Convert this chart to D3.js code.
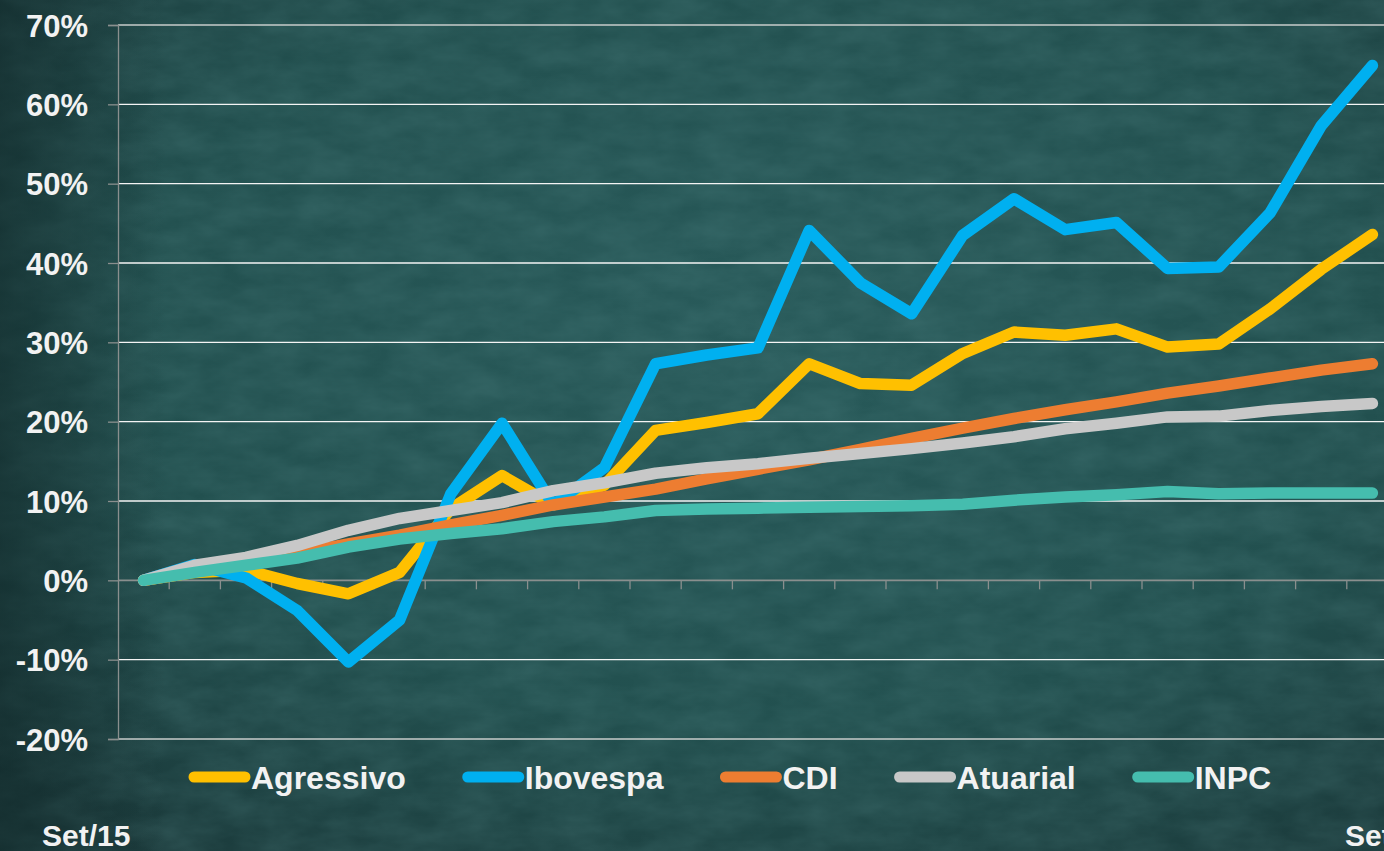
<!DOCTYPE html>
<html>
<head>
<meta charset="utf-8">
<script src="https://cdn.jsdelivr.net/npm/d3@7"></script>
<style>
html,body{margin:0;padding:0;overflow:hidden;background:#22494a;}
svg{display:block;}
text{font-family:"Liberation Sans",Arial,sans-serif;font-weight:bold;fill:#f2f2f2;}
</style>
</head>
<body>
<svg id="chart" width="1384" height="851"></svg>
<script>
const months = ["Set/15","Out/15","Nov/15","Dez/15","Jan/16","Fev/16","Mar/16","Abr/16","Mai/16","Jun/16","Jul/16","Ago/16",
  "Set/16","Out/16","Nov/16","Dez/16","Jan/17","Fev/17","Mar/17","Abr/17","Mai/17","Jun/17","Jul/17","Ago/17","Set/17"];
const agressivo = [0,1.0,1.3,-0.4,-1.7,1.0,9.0,13.2,9.5,12.0,18.9,19.9,21.0,27.3,24.8,24.6,28.6,31.3,30.9,31.7,29.4,29.8,34.2,39.2,43.6];
const ibovespa  = [0,2.0,0.3,-3.8,-10.3,-5.0,10.9,19.8,9.5,14.2,27.3,28.4,29.3,44.1,37.5,33.6,43.5,48.1,44.2,45.1,39.3,39.5,46.3,57.3,64.9];
const cdi       = [0,1.1,2.2,3.4,4.6,5.7,7.0,8.2,9.5,10.5,11.5,12.8,14.0,15.2,16.5,17.9,19.2,20.4,21.5,22.5,23.6,24.5,25.5,26.5,27.3];
const atuarial  = [0,1.9,2.9,4.4,6.3,7.8,8.8,9.8,11.3,12.3,13.5,14.2,14.7,15.4,16.0,16.6,17.3,18.1,19.1,19.8,20.6,20.7,21.4,21.9,22.3];
const inpc      = [0,1.0,1.9,2.8,4.2,5.2,5.9,6.5,7.4,8.0,8.8,9.0,9.1,9.2,9.3,9.4,9.6,10.1,10.5,10.8,11.2,10.9,11.0,11.0,11.0];
const seriesNames = ["Agressivo","Ibovespa","CDI","Atuarial","INPC"];
const seriesColors = ["#FFC000","#00B0F0","#ED7D31","#C8C8C8","#45BDAE"];
const yTicks = [-20,-10,0,10,20,30,40,50,60,70];
const firstLabel = "Set/15", lastLabel = "Set/17";

const seriesData = [agressivo, ibovespa, cdi, atuarial, inpc];

const svg = d3.select("#chart");
const W = 1384, H = 851;

// background
const defs = svg.append("defs");
const rg = defs.append("radialGradient").attr("id","bg").attr("cx","55%").attr("cy","40%").attr("r","75%");
rg.append("stop").attr("offset","0%").attr("stop-color","#285a5a");
rg.append("stop").attr("offset","60%").attr("stop-color","#22504f");
rg.append("stop").attr("offset","100%").attr("stop-color","#1b3a3b");
const f = defs.append("filter").attr("id","noise").attr("x",0).attr("y",0).attr("width","100%").attr("height","100%");
f.append("feTurbulence").attr("type","fractalNoise").attr("baseFrequency","0.02 0.045").attr("numOctaves",4).attr("seed",7);
f.append("feColorMatrix").attr("type","matrix").attr("values","0 0 0 0 0.12  0 0 0 0 0.3  0 0 0 0 0.3  0 0 0 0.3 -0.06");
const lg = defs.append("linearGradient").attr("id","leftshade").attr("x1","0").attr("x2","1");
lg.append("stop").attr("offset","0").attr("stop-color","#0f2526").attr("stop-opacity",0.55);
lg.append("stop").attr("offset","0.12").attr("stop-color","#0f2526").attr("stop-opacity",0);
svg.append("rect").attr("width",W).attr("height",H).attr("fill","url(#bg)");
svg.append("rect").attr("width",W).attr("height",H).attr("filter","url(#noise)");
svg.append("rect").attr("width",W).attr("height",H).attr("fill","url(#leftshade)");

const x = d3.scaleBand().domain(months).range([118, 1398]);
const y = d3.scaleLinear().domain([-20,70]).range([739,25]);
const cx = m => x(m) + x.bandwidth()/2;

// gridlines
svg.append("g").selectAll("line").data(yTicks.filter(d=>d!==0)).join("line")
  .attr("x1",118).attr("x2",x.range()[1]).attr("y1",d=>y(d)).attr("y2",d=>y(d))
  .attr("stroke",d=>d===-20||d===70?"#c8cccb":"#f4f4f4").attr("stroke-width",1.4);

// y axis
const yAxis = d3.axisLeft(y).tickValues(yTicks).tickSize(10).tickPadding(20).tickFormat(d=>d+"%");
const ga = svg.append("g").attr("transform","translate(118,0)").call(yAxis);
ga.select(".domain").attr("stroke","#8a8f8e").attr("stroke-width",1.3);
ga.selectAll(".tick line").attr("stroke","#8a8f8e").attr("stroke-width",1.3);
ga.selectAll(".tick text").attr("font-size",31).attr("font-family","'Liberation Sans',Arial,sans-serif")
  .attr("font-weight","bold").attr("fill","#f2f2f2").attr("dy","0.36em");

// x axis at 0%
const gx = svg.append("g");
gx.append("line").attr("x1",118).attr("x2",x.range()[1]).attr("y1",y(0)).attr("y2",y(0))
  .attr("stroke","#8a8f8e").attr("stroke-width",1.6);
gx.selectAll("line.tk").data(months.slice(1)).join("line").attr("class","tk")
  .attr("x1",d=>x(d)).attr("x2",d=>x(d)).attr("y1",y(0)).attr("y2",y(0)+9)
  .attr("stroke","#8a8f8e").attr("stroke-width",1.3);

// lines
const line = d3.line().x((d,i)=>cx(months[i])).y(d=>y(d));
svg.append("g").selectAll("path").data(seriesData).join("path")
  .attr("d",d=>line(d)).attr("fill","none")
  .attr("stroke",(d,i)=>seriesColors[i]).attr("stroke-width",11.5)
  .attr("stroke-linecap","round").attr("stroke-linejoin","round");

// legend
const leg = svg.append("g");
let lx = 194;
const ly = 777;
seriesNames.forEach((n,i)=>{
  leg.append("line").attr("x1",lx).attr("x2",lx+51).attr("y1",ly).attr("y2",ly)
    .attr("stroke",seriesColors[i]).attr("stroke-width",11).attr("stroke-linecap","round");
  const t = leg.append("text").attr("x",lx+57).attr("y",ly).attr("dy","0.36em")
    .attr("font-size",32).text(n);
  lx += 57 + t.node().getComputedTextLength() + 62;
});

// bottom date labels
svg.append("text").attr("x",42).attr("y",846).attr("font-size",30).text(firstLabel);
svg.append("text").attr("x",1345).attr("y",846).attr("font-size",30).text(lastLabel);
</script>
</body>
</html>
